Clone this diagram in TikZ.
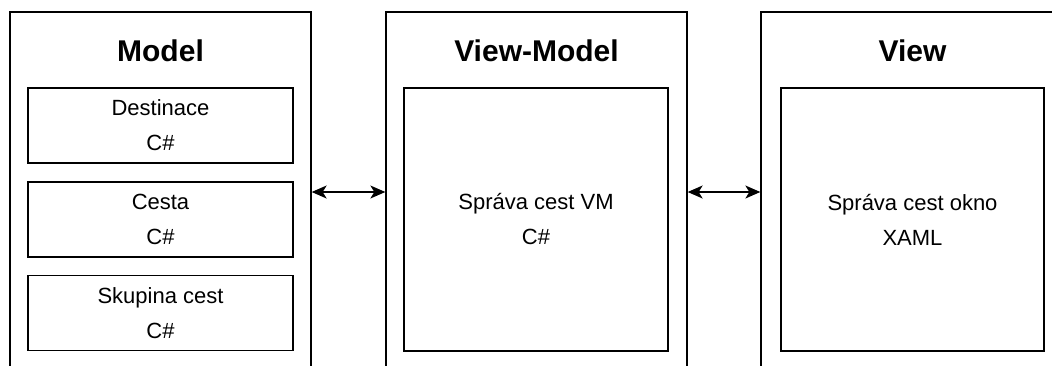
\documentclass[tikz,border=0pt]{standalone}
\usepackage{fontspec}
\setmainfont{Liberation Sans}
\usetikzlibrary{arrows.meta}
\tikzset{
  layer/.style={draw, line width=1.3pt, minimum width=#1, minimum height=360pt, inner sep=0pt},
  part/.style={draw, line width=1.3pt, minimum width=265pt, minimum height=#1, inner sep=0pt,
    align=center, font=\fontsize{22}{35}\selectfont},
  heading/.style={font=\fontsize{30}{32}\selectfont\bfseries},
  link/.style={line width=1.3pt, {Stealth[length=15pt,width=13pt,inset=4pt]}-{Stealth[length=15pt,width=13pt,inset=4pt]}}
}
\begin{document}
\begin{tikzpicture}[x=1pt,y=-1pt]
  \useasboundingbox (0,0) rectangle (1052,365);
  \fill[white] (0,0) rectangle (1052,365);
  \clip (0,0) rectangle (1052,365);

  % three layers, running past the lower edge
  \node[layer=301pt] (model) at (160.5,192) {};
  \node[layer=301pt] (vm) at (536.5,192) {};
  \node[layer=303pt] (view) at (912.5,192) {};

  \node[heading] (tmodel) at (160.5,51) {Model};
  \node[heading] (tvm) at (536.5,51) {View-Model};
  \node[heading] (tview) at (912.5,51) {View};

  % model classes
  \node[part=75pt] (dest) at (160.5,125.5) {Destinace\\C\#};
  \node[part=75pt] (cesta) at (160.5,219.5) {Cesta\\C\#};
  \node[part=75pt] (skup) at (160.5,313) {Skupina cest\\C\#};

  % view-model and view
  \node[part=263pt, minimum width=264pt] (spvm) at (536,219.5) {Správa cest VM\\C\#};
  \node[part=263pt, minimum width=263pt] (spokno) at (912.5,219.5) {Správa cest okno\\XAML};

  \draw[link] (model.east) -- (vm.west);
  \draw[link] (vm.east) -- (view.west);
\end{tikzpicture}
\end{document}
